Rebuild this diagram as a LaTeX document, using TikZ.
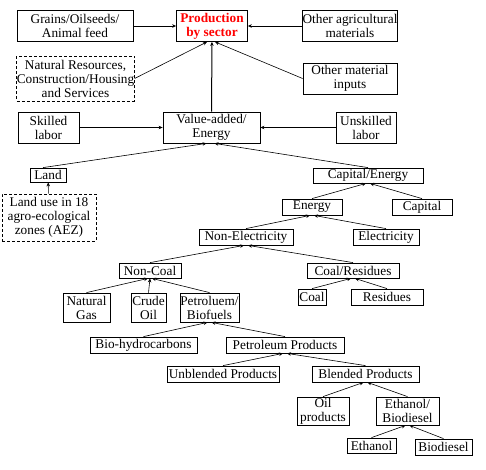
\documentclass[tikz,border=0pt]{standalone}
\usepackage{fontspec}
\setmainfont{Liberation Serif}
\usetikzlibrary{positioning,arrows.meta}
\definecolor{mBoxRed}{HTML}{FF0000}

\begin{document}
\begin{tikzpicture}[x=1pt, y=-1pt, font=\fontsize{13.3}{14}\selectfont,
  box/.style={draw, thick, align=center, inner sep=0pt},
  dbox/.style={box, densely dashed},
  feed/.style={-{Stealth[length=4pt,width=3.5pt]}, semithick}]
\useasboundingbox (0,0) rectangle (486,469);
% top level
\node[box, minimum width=116, minimum height=31] (grains) at (75,26) {Grains/Oilseeds/\\Animal feed};
\node[box, minimum width=71, minimum height=31, text=mBoxRed, font=\fontsize{13.3}{14}\selectfont\bfseries] (prod) at (212,26) {Production\\by sector};
\node[box, minimum width=94, minimum height=31] (agri) at (350,26) {Other agricultural\\materials};
\node[dbox, minimum width=115, minimum height=45] (natres) at (75.5,78.5) {Natural Resources,\\Construction/Housing\\and Services};
\node[box, minimum width=94, minimum height=31] (othmat) at (350,78.5) {Other material\\inputs};
% value-added
\node[box, minimum width=61, minimum height=31] (skilled) at (48.5,127.5) {Skilled\\labor};
\node[box, minimum width=97, minimum height=31] (va) at (211.5,127.5) {Value-added/\\Energy};
\node[box, minimum width=60, minimum height=31] (unskilled) at (366,127.5) {Unskilled\\labor};
\node[box, minimum width=36, minimum height=14] (land) at (48,175) {Land};
\node[dbox, minimum width=94, minimum height=47] (aez) at (49,217.5) {Land use in 18\\agro-ecological\\zones (AEZ)};
\node[box, minimum width=110, minimum height=15] (capen) at (368,175.5) {Capital/Energy};
\node[box, minimum width=60, minimum height=16] (energy) at (312,207) {Energy};
\node[box, minimum width=60, minimum height=16] (capital) at (422,207) {Capital};
\node[box, minimum width=94, minimum height=16] (nonel) at (246,237) {Non-Electricity};
\node[box, minimum width=66, minimum height=16] (elec) at (386,237) {Electricity};
% fuels
\node[box, minimum width=62, minimum height=15] (noncoal) at (150,270.5) {Non-Coal};
\node[box, minimum width=92, minimum height=15] (coalres) at (353,270.5) {Coal/Residues};
\node[box, minimum width=47, minimum height=29] (gas) at (86.5,307.5) {Natural\\Gas};
\node[box, minimum width=35, minimum height=29] (crude) at (148.5,307.5) {Crude\\Oil};
\node[box, minimum width=59, minimum height=29] (petbio) at (209.5,307.5) {Petroluem/\\Biofuels};
\node[box, minimum width=28, minimum height=16] (coal) at (312,297) {Coal};
\node[box, minimum width=72, minimum height=16] (resid) at (387,297) {Residues};
\node[box, minimum width=107, minimum height=16] (biohc) at (143.5,345) {Bio-hydrocarbons};
\node[box, minimum width=118, minimum height=16] (petprod) at (285,345) {Petroleum Products};
\node[box, minimum width=112, minimum height=16] (unbl) at (223,374) {Unblended Products};
\node[box, minimum width=107, minimum height=16] (blend) at (365.5,374) {Blended Products};
\node[box, minimum width=52, minimum height=28] (oilprod) at (323,411) {Oil\\products};
\node[box, minimum width=63, minimum height=28] (ethbio) at (407.5,411) {Ethanol/\\Biodiesel};
\node[box, minimum width=49, minimum height=15] (ethanol) at (371.5,445.5) {Ethanol};
\node[box, minimum width=57, minimum height=16] (biodsl) at (443.5,447) {Biodiesel};
% connectors
\draw[feed] (grains) -- (prod);
\draw[feed] (agri) -- (prod);
\draw[feed] (natres.east) -- ([xshift=-5pt]prod.south);
\draw[feed] (othmat.west) -- ([xshift=3pt]prod.south);
\draw[feed, line width=1pt] (va) -- (prod);
\draw[feed] (skilled) -- (va);
\draw[feed] (unskilled) -- (va);
\draw[feed] ([xshift=-5pt]land.north) -- ([xshift=-5pt]va.south);
\draw[feed] (capen.north) -- ([xshift=3pt]va.south);
\draw[feed] (aez) -- (land);
\foreach \a/\b in {energy/capen, nonel/energy, noncoal/nonel, coal/coalres,
  biohc/petbio, unbl/petprod, oilprod/blend, ethanol/ethbio}
  \draw[feed] (\a.north) -- ([xshift=-2pt]\b.south);
\foreach \a/\b in {capital/capen, elec/energy, coalres/nonel, resid/coalres,
  petprod/petbio, blend/petprod, ethbio/blend, biodsl/ethbio}
  \draw[feed] (\a.north) -- ([xshift=2pt]\b.south);
\draw[feed] (gas.north) -- ([xshift=-2pt]noncoal.south);
\draw[feed] (crude.north) -- (noncoal.south);
\draw[feed] (petbio.north) -- ([xshift=2pt]noncoal.south);
\end{tikzpicture}
\end{document}
